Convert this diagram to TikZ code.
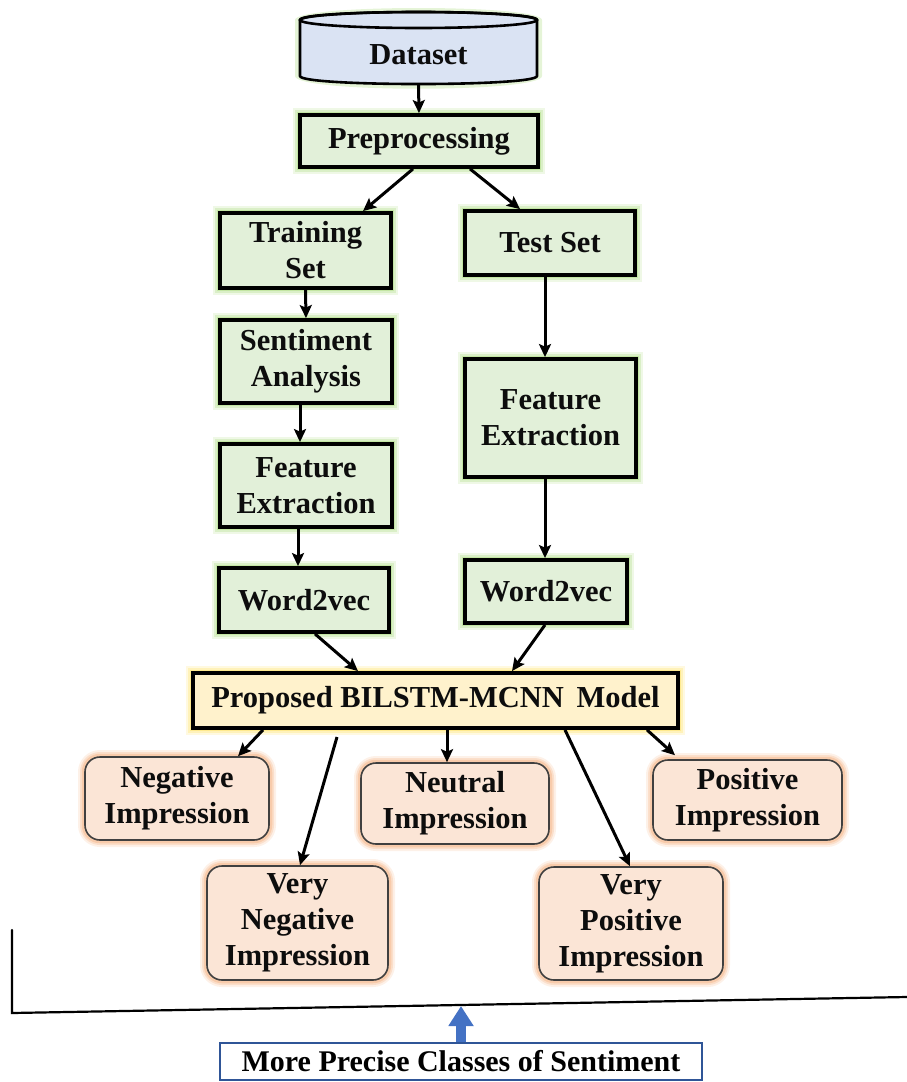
\documentclass[tikz,border=0pt]{standalone}
\usepackage{fontspec}
\setmainfont{Liberation Serif}
\usetikzlibrary{arrows.meta,calc}

\definecolor{greenfill}{HTML}{E2F0D9}
\definecolor{greenglow}{HTML}{B4DF8C}
\definecolor{bluefill}{HTML}{DAE3F3}
\definecolor{yellowfill}{HTML}{FFF2CC}
\definecolor{yellowglow}{HTML}{FFE572}
\definecolor{peachfill}{HTML}{FBE5D6}
\definecolor{peachglow}{HTML}{F6BE95}
\definecolor{peachline}{HTML}{404040}
\definecolor{labelblue}{HTML}{2F5597}
\definecolor{arrowblue}{HTML}{4472C4}

\tikzset{
  txt/.style={font=\fontsize{30.5}{36}\selectfont\bfseries, align=center, inner sep=0pt, text=black!95},
  glow/.style={preaction={draw=#1, line width=14pt, opacity=0.22},
               preaction={draw=#1, line width=10pt, opacity=0.35},
               preaction={draw=#1, line width=6.5pt, opacity=0.6}},
  stepbox/.style={txt, draw=black, line width=3.8pt, fill=greenfill, glow=greenglow},
  modelbox/.style={txt, draw=black, line width=3.8pt, fill=yellowfill, glow=yellowglow},
  classbox/.style={txt, draw=peachline, line width=1.6pt, fill=peachfill,
                   rounded corners=15pt, glow=peachglow},
  arr/.style={draw=black, line width=3pt, -{Stealth[length=13pt,width=12pt,inset=2.5pt]}},
  plainline/.style={draw=black, line width=2.2pt, line cap=round},
}

\newcommand{\boxat}[6]{% name, style, left, top, right, bottom; the text follows
  \node[#2, minimum width={#5-#3}, minimum height={#6-#4}] (#1) at ({(#3+#5)/2},{(#4+#6)/2})}

\begin{document}
\begin{tikzpicture}[x=1pt, y=-1pt]
\useasboundingbox (0,0) rectangle (907,1082);

% database cylinder
\fill[greenglow, opacity=0.35] (295,20) -- (295,76) .. controls (295,93) and (542,93) .. (542,76)
   -- (542,20) .. controls (542,4) and (295,4) .. (295,20) -- cycle;
\filldraw[fill=bluefill, draw=black, line width=2.6pt]
  (300,20) -- (300,76) .. controls (300,86.7) and (537,86.7) .. (537,76) -- (537,20)
  .. controls (537,9.3) and (300,9.3) .. (300,20) -- cycle;
\draw[black, line width=2.6pt] (418.5,20) ellipse [x radius=118.5, y radius=8];
\node[txt, minimum width=237, minimum height=56] (ds) at (418.5,55) {Dataset};
\coordinate (dsbot) at (418.5,84);

% processing steps
\boxat{pre}{stepbox}{300}{115}{538}{167} {Preprocessing};
\boxat{train}{stepbox}{220}{213}{391}{288} {Training\\Set};
\boxat{test}{stepbox}{465}{211}{635}{275} {Test Set};
\boxat{sa}{stepbox}{220}{320}{392}{403} {Sentiment\\Analysis};
\boxat{fea}{stepbox}{220}{444}{392}{527} {Feature\\Extraction};
\boxat{wva}{stepbox}{219}{568}{389}{632} {Word2vec};
\boxat{feb}{stepbox}{465}{359}{636}{477} {Feature\\Extraction};
\boxat{wvb}{stepbox}{465}{560}{627}{623} {Word2vec};

% model
\boxat{model}{modelbox}{193}{673}{678}{728} {Proposed BILSTM-MCNN\ \,Model};

% sentiment classes
\boxat{neg}{classbox}{85}{757}{269}{840} {Negative\\Impression};
\boxat{vneg}{classbox}{207}{866}{388}{980} {Very\\Negative\\Impression};
\boxat{neu}{classbox}{361}{763}{549}{844} {Neutral\\Impression};
\boxat{pos}{classbox}{653}{760}{842}{840} {Positive\\Impression};
\boxat{vpos}{classbox}{539}{867}{723}{980} {Very\\Positive\\Impression};

% flow arrows
\draw[arr] (dsbot) -- (pre.north);
\draw[arr] ($(pre.south)+(-6,0)$) -- ($(train.north)+(57.5,0)$);
\draw[arr] ($(pre.south)+(51,0)$) -- ($(test.north)+(-30,0)$);
\draw[arr] (train.south) -- (sa.north);
\draw[arr] ($(sa.south)+(-6,0)$) -- ($(fea.north)+(-6,0)$);
\draw[arr] ($(fea.south)+(-8,0)$) -- ($(wva.north)+(-6,0)$);
\draw[arr] ($(test.south)+(-5,0)$) -- ($(feb.north)+(-5.5,0)$);
\draw[arr] ($(feb.south)+(-5.5,0)$) -- ($(wvb.north)+(-1,0)$);
\draw[arr] ($(wva.south)+(11,0)$) -- ($(model.north)+(-77.5,0)$);
\draw[arr] ($(wvb.south)+(-1,0)$) -- ($(model.north)+(76.5,0)$);

\coordinate (vnegstart) at (337,737);
\draw[arr] ($(model.south)+(-172.5,0)$) -- ($(neg.north)+(61,0)$);
\draw[arr] (vnegstart) -- ($(vneg.north)+(2.5,0)$);
\draw[arr] ($(model.south)+(11.5,0)$) -- ($(neu.north)+(-8,0)$);
\draw[arr] ($(model.south)+(129.5,0)$) -- ($(vpos.north)+(-1,0)$);
\draw[arr] ($(model.south)+(211.5,0)$) -- ($(pos.north)+(-72.5,-4)$);

% bracket line under the classes
\coordinate (brtop) at (12,930);
\coordinate (brcorner) at (12,1013);
\coordinate (brend) at (907,997);
\draw[plainline] (brtop) -- (brcorner) -- (brend);

% caption with block arrow
\node[font=\fontsize{30}{36}\selectfont\bfseries, draw=labelblue, line width=1.8pt,
      fill=white, minimum width=482, minimum height=37, inner sep=0pt] (caption)
      at (461,1061.5) {More Precise Classes of Sentiment};
\coordinate (capjoin) at (461,1006);
\draw[arrowblue, line width=10pt, -{Triangle[length=20pt,width=24pt]}]
  (caption.north) -- (capjoin);
\end{tikzpicture}
\end{document}
